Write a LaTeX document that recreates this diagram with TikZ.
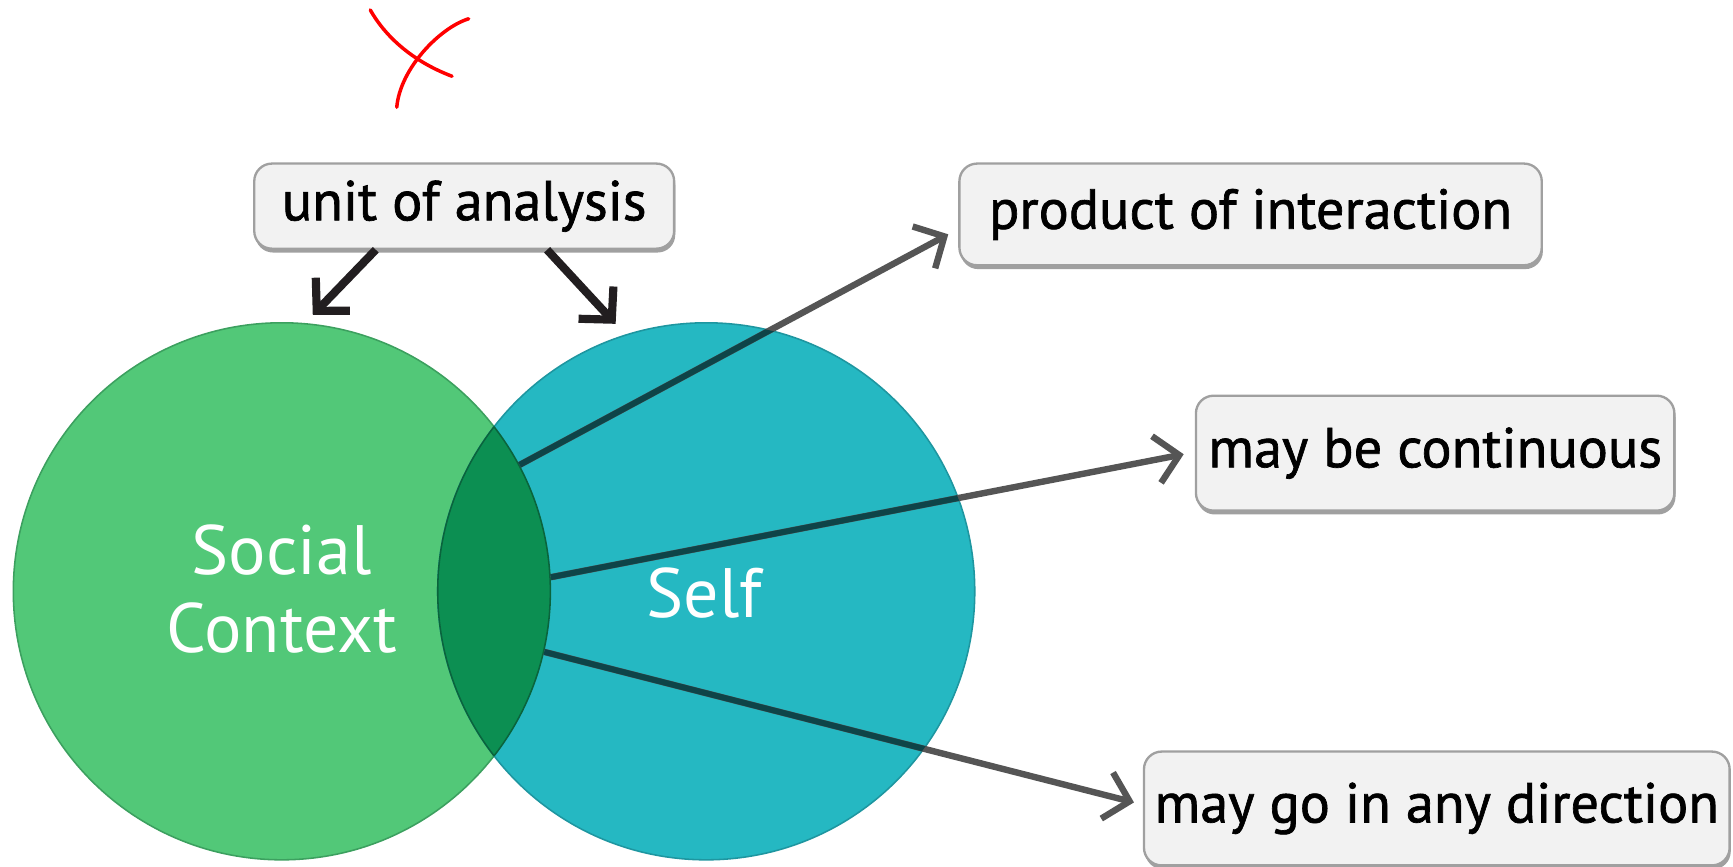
\documentclass[tikz,border=0pt]{standalone}
\usepackage{fontspec}
\setmainfont{PT Sans}
\newfontfamily\boxfont[FakeBold=1.2]{PT Sans}
\usetikzlibrary{arrows.meta,shadows}
\definecolor{ctxgreen}{RGB}{82,200,120}
\definecolor{ctxedge}{RGB}{60,160,95}
\definecolor{selfteal}{RGB}{37,184,194}
\definecolor{selfedge}{RGB}{30,150,160}
\definecolor{overlapgreen}{RGB}{12,143,82}
\definecolor{overlapedge}{RGB}{10,100,60}
\definecolor{boxfill}{RGB}{242,242,242}
\definecolor{boxedge}{RGB}{160,160,160}
\definecolor{arrowgray}{RGB}{85,85,85}
\definecolor{innerline}{RGB}{14,68,72}
\definecolor{headblack}{RGB}{34,30,32}
\tikzset{
  labelbox/.style={draw=boxedge, line width=1.2pt, fill=boxfill, rounded corners=0.32cm,
    font=\boxfont\fontsize{29}{32}\selectfont, text=black, inner sep=0pt,
    drop shadow={shadow xshift=0.02cm, shadow yshift=-0.07cm, fill=boxedge, opacity=1}},
  barb/.style={-{Straight Barb[length=0.42cm, width=0.86cm]}},
  unitarrow/.style={barb, draw=headblack, line width=4.2pt},
  grayarrow/.style={barb, draw=arrowgray, line width=3.3pt},
  innerseg/.style={draw=innerline, line width=3pt},
  circletext/.style={text=white, font=\fontsize{36}{40}\selectfont, align=center},
  redmark/.style={draw=red, line width=1.8pt, line cap=round}
}
\begin{document}
\begin{tikzpicture}[x=0.02cm, y=-0.02cm]
\useasboundingbox (0,0) rectangle (1568,784);

% circles
\node[circle, minimum size=9.72cm, fill=ctxgreen, draw=ctxedge, line width=0.8pt] (ctx) at (255,535) {};
\node[circle, minimum size=9.72cm, fill=selfteal, draw=selfedge, line width=0.8pt] (self) at (639,535) {};
\begin{scope}
  \clip (ctx.center) circle (4.86cm);
  \fill[overlapgreen] (self.center) circle (4.86cm);
  \draw[overlapedge, line width=0.8pt] (self.center) circle (4.86cm);
\end{scope}
\begin{scope}
  \clip (self.center) circle (4.86cm);
  \draw[overlapedge, line width=0.8pt] (ctx.center) circle (4.86cm);
\end{scope}

\node[circletext] (ctxlabel) at (255,533) {Social\\Context};
\node[circletext] (selflabel) at (637,537) {Self};

% boxes
\node[labelbox, minimum width=7.6cm, minimum height=1.54cm] (unit) at (420,186.5) {unit of analysis};
\node[labelbox, minimum width=10.54cm, minimum height=1.84cm] (prod) at (1131.5,194) {product of interaction};
\node[labelbox, minimum width=8.66cm, minimum height=2.08cm] (cont) at (1298.5,410) {may be continuous};
\node[labelbox, minimum width=10.6cm, minimum height=2.06cm] (dir) at (1300,731.5) {may go in any direction};

% arrow tips
\coordinate (tipA) at (858,212);
\coordinate (tipB) at (1071,411);
\coordinate (tipC) at (1026,726);
\coordinate (unitL) at (340,226);
\coordinate (unitR) at (495,226);
\coordinate (tipL) at (283,285);
\coordinate (tipR) at (557,293);

% gray arrows from overlap
\draw[grayarrow] (ctx.28.4) -- (tipA);
\draw[grayarrow] (ctx.3.1) -- (tipB);
\draw[grayarrow] (ctx.-13.6) -- (tipC);
\begin{scope}
  \clip (self.center) circle (4.86cm);
  \draw[innerseg] (ctx.28.4) -- (tipA);
  \draw[innerseg] (ctx.3.1) -- (tipB);
  \draw[innerseg] (ctx.-13.6) -- (tipC);
\end{scope}

% black arrows from unit of analysis
\draw[unitarrow] (unitL) -- (tipL);
\draw[unitarrow] (unitR) -- (tipR);

% red mark
\draw[redmark] (335,9) .. controls (348,32) and (372,55) .. (409,69);
\draw[redmark] (424,17) .. controls (398,25) and (362,62) .. (359,97);
\end{tikzpicture}
\end{document}
